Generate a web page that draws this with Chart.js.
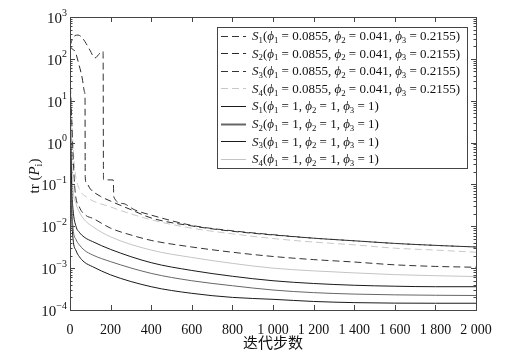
<!DOCTYPE html>
<html><head><meta charset="utf-8">
<script src="https://cdn.jsdelivr.net/npm/chart.js@4.4.0/dist/chart.umd.min.js"></script>
<style>html,body{margin:0;padding:0;background:#fff;}#wrap{width:512px;height:359px;}</style>
</head><body><div id="wrap"><canvas id="c" width="512" height="359"></canvas></div>
<script>
// ---- data ----
const seriesLabels = [
  'S1(ϕ1 = 0.0855, ϕ2 = 0.041, ϕ3 = 0.2155)',
  'S2(ϕ1 = 0.0855, ϕ2 = 0.041, ϕ3 = 0.2155)',
  'S3(ϕ1 = 0.0855, ϕ2 = 0.041, ϕ3 = 0.2155)',
  'S4(ϕ1 = 0.0855, ϕ2 = 0.041, ϕ3 = 0.2155)',
  'S1(ϕ1 = 1, ϕ2 = 1, ϕ3 = 1)',
  'S2(ϕ1 = 1, ϕ2 = 1, ϕ3 = 1)',
  'S3(ϕ1 = 1, ϕ2 = 1, ϕ3 = 1)',
  'S4(ϕ1 = 1, ϕ2 = 1, ϕ3 = 1)'
];
const xTickValues = [0,200,400,600,800,1000,1200,1400,1600,1800,2000];
const xTickLabels = ['0','200','400','600','800','1 000','1 200','1 400','1 600','1 800','2 000'];
const yTickExponents = [3,2,1,0,-1,-2,-3,-4];
const xTitle = '迭代步数';

const iterS1d = [0,10,25,40,60,80,98,123,148,163,165,213,216,260,320,400,600,800,1000,1200,1400,1600,1800,2000];
const valS1d  = [200,280,360,370,320,230,162,105,138,150,0.13,0.128,0.05,0.035,0.0245,0.0185,0.0105,0.0078,0.0063,0.0052,0.0045,0.0039,0.0035,0.0032];
const iterS2d = [0,12,25,45,60,72,74,75,80,100,150,200,300,400,600,800,1000,1200,1400,1600,1800,2000];
const valS2d  = [200,170,150,70,35,16,12,0.15,0.11,0.078,0.052,0.04,0.025,0.0158,0.0102,0.0076,0.0062,0.0052,0.0045,0.0039,0.0035,0.0032];
const iterS3d = [0,8,16,25,46,80,112,200,300,400,600,800,1000,1200,1400,1600,1800,2000];
const valS3d  = [40,4,0.4,0.07,0.029,0.018,0.0155,0.009,0.0062,0.0046,0.0032,0.0024,0.0019,0.0016,0.0014,0.0012,0.0011,0.00105];
const iterS4d = [0,6,14,25,45,79,200,400,600,800,1000,1200,1400,1600,1800,2000];
const valS4d  = [25,8,1,0.2,0.08,0.051,0.029,0.0143,0.009,0.0066,0.0051,0.0042,0.0036,0.003,0.0027,0.0024];
const iterSol = [0,4,8,15,30,46,70,112,200,400,600,800,1000,1200,1400,1600,1800,2000];
const valS1s  = [10,1,0.1,0.025,0.0098,0.0072,0.0055,0.0043,0.0028,0.00135,0.00088,0.00064,0.0005,0.00043,0.00039,0.00037,0.00036,0.00036];
const valS2s  = [5,0.4,0.04,0.009,0.0048,0.0036,0.0027,0.00206,0.00143,0.00075,0.0005,0.00038,0.0003,0.00026,0.00024,0.00023,0.000225,0.000222];
const valS3s  = [3,0.2,0.02,0.005,0.0026,0.00188,0.0014,0.00108,0.00069,0.00036,0.00025,0.0002,0.00018,0.00016,0.00015,0.000146,0.000145,0.000145];
const valS4s  = [30,4,0.5,0.08,0.035,0.022,0.0145,0.0098,0.0056,0.0027,0.0018,0.0013,0.001,0.00086,0.00077,0.0007,0.00066,0.00063];

const seriesX = [iterS1d, iterS2d, iterS3d, iterS4d, iterSol, iterSol, iterSol, iterSol];
const seriesY = [valS1d, valS2d, valS3d, valS4d, valS1s, valS2s, valS3s, valS4s];
const seriesColors = ['#333','#2a2a2a','#333','#c8c8c8','#1a1a1a','#666','#1a1a1a','#c4c4c4'];
const seriesDashed = [true,true,true,true,false,false,false,false];

// ---- chart ----
const SERIF = '"Liberation Serif", "DejaVu Serif", serif';
const datasets = seriesLabels.map((lab,k)=>({
  label: lab,
  data: seriesX[k].map((x,i)=>({x:x, y:seriesY[k][i]})),
  borderColor: seriesColors[k],
  borderWidth: 1,
  borderDash: seriesDashed[k] ? [7,4] : [],
  pointRadius: 0,
  fill: false,
  cubicInterpolationMode: 'monotone'
}));

function richParts(label){
  const parts=[]; let prev='';
  for (const c of label){
    if (c==='S' || c==='ϕ' || c==='P'){ parts.push({t:c,s:'i'}); }
    else if (/[0-9i]/.test(c) && (prev==='S'||prev==='ϕ'||prev==='P')){ parts.push({t:c,s:'sub'}); }
    else {
      const last=parts[parts.length-1];
      if (last && last.s==='n') last.t+=c; else parts.push({t:c,s:'n'});
    }
    prev=c;
  }
  return parts;
}
function fontFor(s,size){
  if (s==='i') return 'italic '+size+'px '+SERIF;
  if (s==='sub') return (size*0.68).toFixed(1)+'px '+SERIF;
  return size+'px '+SERIF;
}
function richWidth(ctx,parts,size){
  let w=0; for(const p of parts){ctx.font=fontFor(p.s,size); w+=ctx.measureText(p.t).width;} return w;
}
function drawRich(ctx,parts,x,y,size){
  ctx.textBaseline='alphabetic'; ctx.textAlign='left';
  for(const p of parts){
    ctx.font=fontFor(p.s,size);
    const dy = p.s==='sub' ? size*0.22 : 0;
    ctx.fillText(p.t,x,y+dy);
    x+=ctx.measureText(p.t).width;
  }
}

const framePlugin = {
  id:'frame',
  afterDraw(chart){
    const ctx=chart.ctx, a=chart.chartArea, xs=chart.scales.x, ys=chart.scales.y;
    ctx.save();
    ctx.strokeStyle='#444'; ctx.lineWidth=1; ctx.setLineDash([]);
    ctx.strokeRect(Math.round(a.left)+0.5, Math.round(a.top)+0.5, Math.round(a.right-a.left), Math.round(a.bottom-a.top));
    ctx.beginPath();
    for(const v of xTickValues){
      const px=Math.round(xs.getPixelForValue(v))+0.5;
      ctx.moveTo(px,a.bottom); ctx.lineTo(px,a.bottom-5);
      ctx.moveTo(px,a.top); ctx.lineTo(px,a.top+5);
    }
    for(const e of yTickExponents){
      for(let k=1;k<=9;k++){
        if (e===3 && k>1) break;
        const v=k*Math.pow(10,e);
        const py=Math.round(ys.getPixelForValue(v))+0.5;
        const L = k===1 ? 5 : 2.5;
        ctx.moveTo(a.left,py); ctx.lineTo(a.left+L,py);
        ctx.moveTo(a.right,py); ctx.lineTo(a.right-L,py);
      }
    }
    ctx.stroke();
    ctx.fillStyle='#111';
    for(const e of yTickExponents){
      const py=ys.getPixelForValue(Math.pow(10,e));
      const exp = e<0 ? '\u2212'+Math.abs(e) : String(e);
      ctx.font='10px '+SERIF; const we=ctx.measureText(exp).width;
      ctx.font='15px '+SERIF; const wb=ctx.measureText('10').width;
      const right=a.left-3;
      ctx.textBaseline='middle'; ctx.textAlign='left';
      ctx.fillText('10', right-we-wb, py+2);
      ctx.font='10px '+SERIF;
      ctx.fillText(exp, right-we, py-4);
    }
    const tparts=richParts('tr (Pi)');
    ctx.save();
    ctx.translate(39,176); ctx.rotate(-Math.PI/2);
    const tw=richWidth(ctx,tparts,15);
    drawRich(ctx,tparts,-tw/2,0,15);
    ctx.restore();
    ctx.font='15px "Noto Sans CJK SC", sans-serif';
    ctx.textAlign='center'; ctx.textBaseline='middle';
    ctx.fillText(xTitle,(a.left+a.right)/2,342);
    const box={l:217,t:27,r:467,b:168};
    ctx.fillStyle='#fff'; ctx.fillRect(box.l,box.t,box.r-box.l,box.b-box.t);
    ctx.strokeStyle='#444'; ctx.strokeRect(box.l+0.5,box.t+0.5,box.r-box.l,box.b-box.t);
    chart.data.datasets.forEach((ds,i)=>{
      const y=35.5+i*17.6;
      ctx.strokeStyle=ds.borderColor; ctx.lineWidth= i===5 ? 2 : 1;
      ctx.setLineDash(ds.borderDash||[]);
      ctx.beginPath(); ctx.moveTo(221,Math.round(y)+0.5); ctx.lineTo(246,Math.round(y)+0.5); ctx.stroke();
      ctx.setLineDash([]);
      ctx.fillStyle='#111';
      drawRich(ctx,richParts(ds.label),252,y+4.5,13);
    });
    ctx.restore();
  }
};

new Chart(document.getElementById('c'),{
  type:'line',
  data:{datasets:datasets},
  options:{
    responsive:false, animation:false, devicePixelRatio:1,
    layout:{padding:{top:17,right:36,left:0,bottom:0}},
    plugins:{legend:{display:false},tooltip:{enabled:false}},
    scales:{
      x:{type:'linear',min:0,max:2000,
        afterBuildTicks:s=>{s.ticks=xTickValues.map(v=>({value:v}));},
        afterFit:s=>{s.height=49;},
        grid:{display:false}, border:{display:false},
        ticks:{autoSkip:false,maxRotation:0,padding:4,color:'#111',font:{family:'Liberation Serif',size:14},
          callback:(v,i)=>xTickLabels[i]}},
      y:{type:'logarithmic',min:1e-4,max:1e3,
        afterFit:s=>{s.width=70;},
        grid:{display:false}, border:{display:false},
        ticks:{display:false}}
    }
  },
  plugins:[framePlugin]
});
</script></body></html>
